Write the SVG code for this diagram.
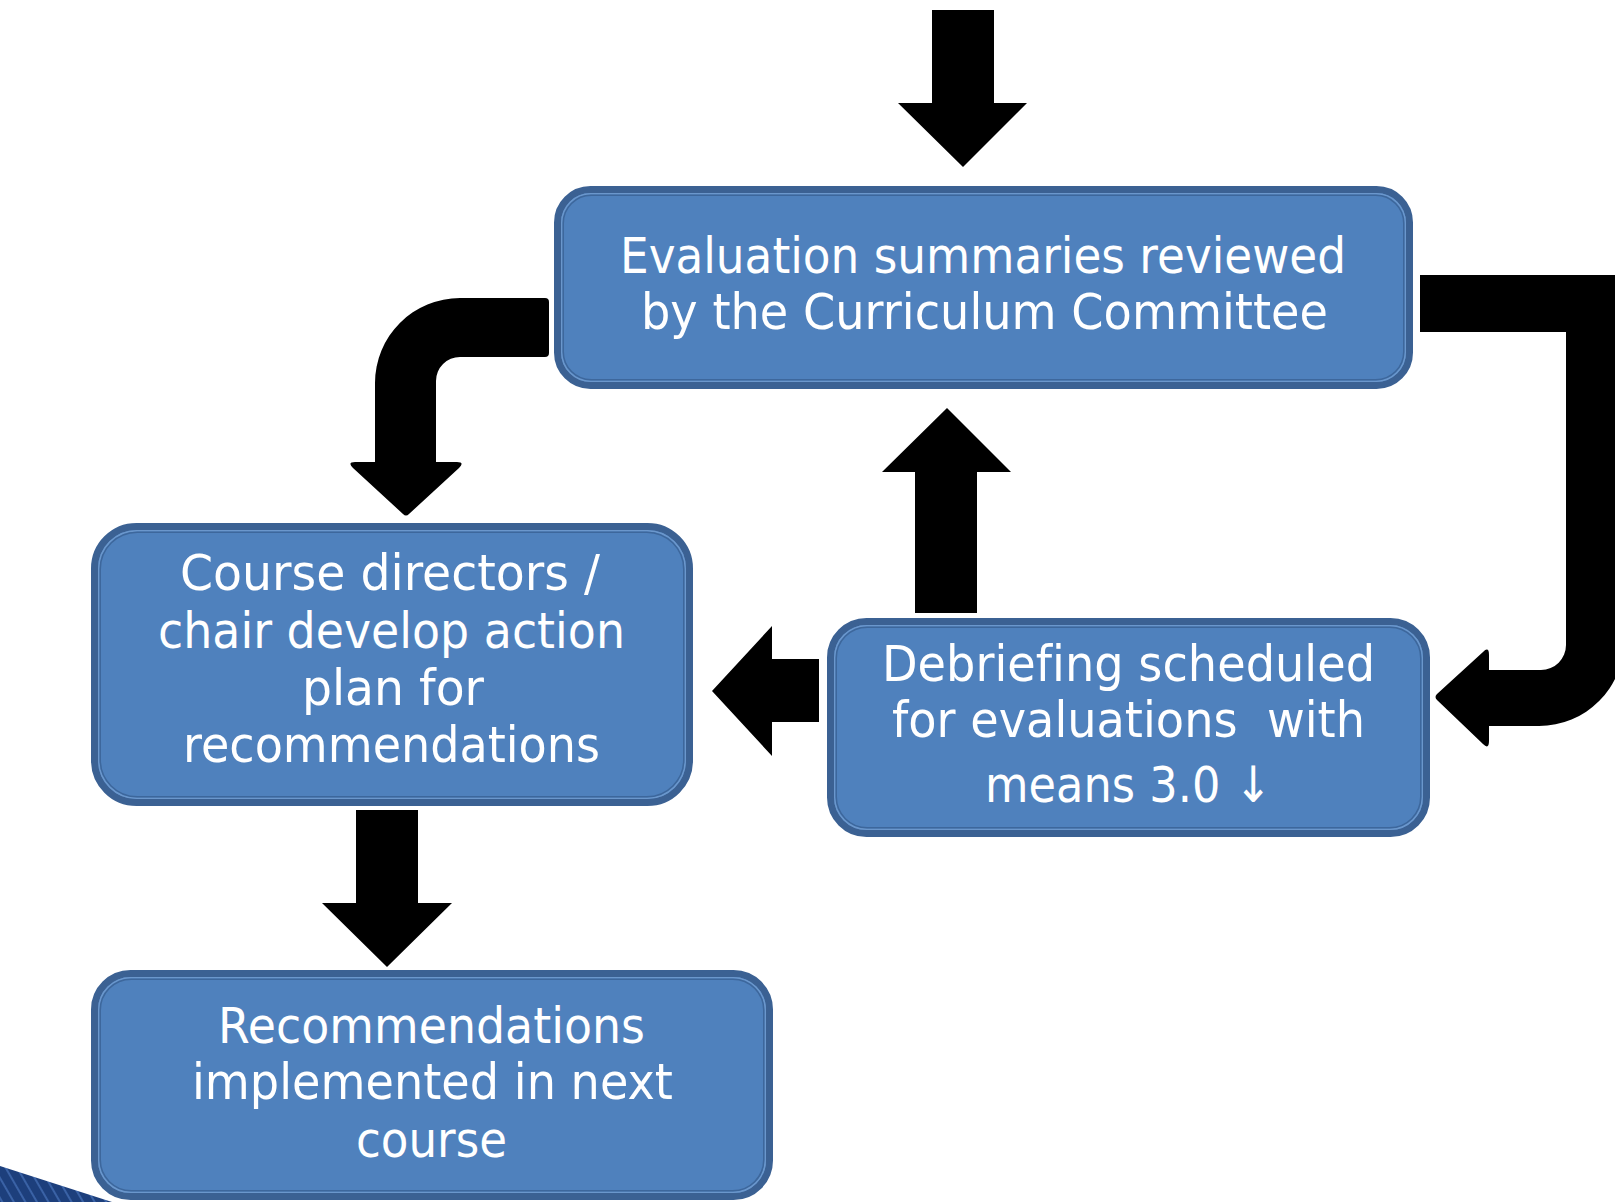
<svg xmlns="http://www.w3.org/2000/svg" width="1615" height="1202" viewBox="0 0 1615 1202">
  <style>
    .outer { fill: #4f81bd; stroke: #3b6193; stroke-width: 7; }
    .light { fill: none; stroke: #6b97cc; stroke-width: 1.5; }
    .dark { fill: none; stroke: #3d679c; stroke-width: 1.5; }
    .lbl { font-family: "DejaVu Sans", "Liberation Sans", sans-serif; font-size: 50px; fill: #ffffff; white-space: pre; font-variant-ligatures: none; font-feature-settings: "liga" 0; }
    .arrow { fill: #000000; }
  </style>
  <defs>
    <pattern id="stripes" patternUnits="userSpaceOnUse" width="10" height="10" patternTransform="rotate(-30)">
      <rect width="10" height="10" fill="#1d3f7c"/>
      <rect width="2" height="10" fill="#3a62a6"/>
    </pattern>
  </defs>
  <rect width="1615" height="1202" fill="#ffffff"/>

  <g id="decoration">
    <polygon points="0,1166 112,1202 0,1202" fill="url(#stripes)"/>
  </g>

  <g id="connectors">
    <polygon class="arrow" points="932,10 994,10 994,103 1027,103 963,167 898,103 932,103"/>
    <polygon class="arrow" points="915,613 977,613 977,472 1011,472 947,408 882,472 915,472"/>
    <polygon class="arrow" points="819,659 819,722 772,722 772,756 712,691 772,626 772,659"/>
    <polygon class="arrow" points="356,810 418,810 418,903 452,903 387,967 322,903 356,903"/>
    <path class="arrow" d="M 460,298 L 545,298 Q 549,298 549,302 L 549,353 Q 549,357 545,357 L 460,357 A 24 24 0 0 0 436,381 L 436,462 L 457,462 Q 465,462 459,468 L 409,514 Q 406,517 403,514 L 353,468 Q 347,462 355,462 L 375,462 L 375,383 A 85 85 0 0 1 460,298 Z"/>
    <path class="arrow" d="M 1420,275 L 1624,275 L 1624,641 A 85 85 0 0 1 1539,726 L 1489,726 L 1489,741 Q 1489,750 1483,744 L 1437,700 Q 1434,697 1437,694 L 1483,652 Q 1489,646 1489,655 L 1489,670 L 1541,670 A 25 25 0 0 0 1566,645 L 1566,332 L 1420,332 Z"/>
  </g>

  <g id="node-evaluation">
    <rect class="outer" x="557.5" y="189.5" width="852" height="196" rx="33"/>
    <rect class="light" x="561.75" y="193.75" width="843.5" height="187.5" rx="29"/>
    <rect class="dark" x="563.25" y="195.25" width="840.5" height="184.5" rx="28"/>
    <text class="lbl" x="620" y="273" textLength="726" lengthAdjust="spacingAndGlyphs">Evaluation summaries reviewed</text>
    <text class="lbl" x="641" y="329" textLength="687" lengthAdjust="spacingAndGlyphs">by the Curriculum Committee</text>
  </g>

  <g id="node-course-directors">
    <rect class="outer" x="94.5" y="526.5" width="595" height="276" rx="42"/>
    <rect class="light" x="98.75" y="530.75" width="586.5" height="267.5" rx="38"/>
    <rect class="dark" x="100.25" y="532.25" width="583.5" height="264.5" rx="37"/>
    <text class="lbl" x="180" y="590" textLength="420" lengthAdjust="spacingAndGlyphs">Course directors /</text>
    <text class="lbl" x="158" y="648" textLength="467" lengthAdjust="spacingAndGlyphs">chair develop action</text>
    <text class="lbl" x="302" y="705" textLength="182" lengthAdjust="spacingAndGlyphs">plan for</text>
    <text class="lbl" x="183" y="762" textLength="417" lengthAdjust="spacingAndGlyphs">recommendations</text>
  </g>

  <g id="node-debriefing">
    <rect class="outer" x="830.5" y="621.5" width="596" height="212" rx="36"/>
    <rect class="light" x="834.75" y="625.75" width="587.5" height="203.5" rx="32"/>
    <rect class="dark" x="836.25" y="627.25" width="584.5" height="200.5" rx="31"/>
    <text class="lbl" x="882" y="681" textLength="493" lengthAdjust="spacingAndGlyphs">Debriefing scheduled</text>
    <text class="lbl" x="892" y="737" textLength="473" lengthAdjust="spacingAndGlyphs">for evaluations  with</text>
    <text class="lbl" x="985" y="802" textLength="287" lengthAdjust="spacingAndGlyphs">means 3.0 ↓</text>
  </g>

  <g id="node-recommendations">
    <rect class="outer" x="94.5" y="973.5" width="675" height="223" rx="36"/>
    <rect class="light" x="98.75" y="977.75" width="666.5" height="214.5" rx="32"/>
    <rect class="dark" x="100.25" y="979.25" width="663.5" height="211.5" rx="31"/>
    <text class="lbl" x="218" y="1043" textLength="427" lengthAdjust="spacingAndGlyphs">Recommendations</text>
    <text class="lbl" x="192" y="1099" textLength="481" lengthAdjust="spacingAndGlyphs">implemented in next</text>
    <text class="lbl" x="356" y="1157" textLength="151" lengthAdjust="spacingAndGlyphs">course</text>
  </g>
</svg>
